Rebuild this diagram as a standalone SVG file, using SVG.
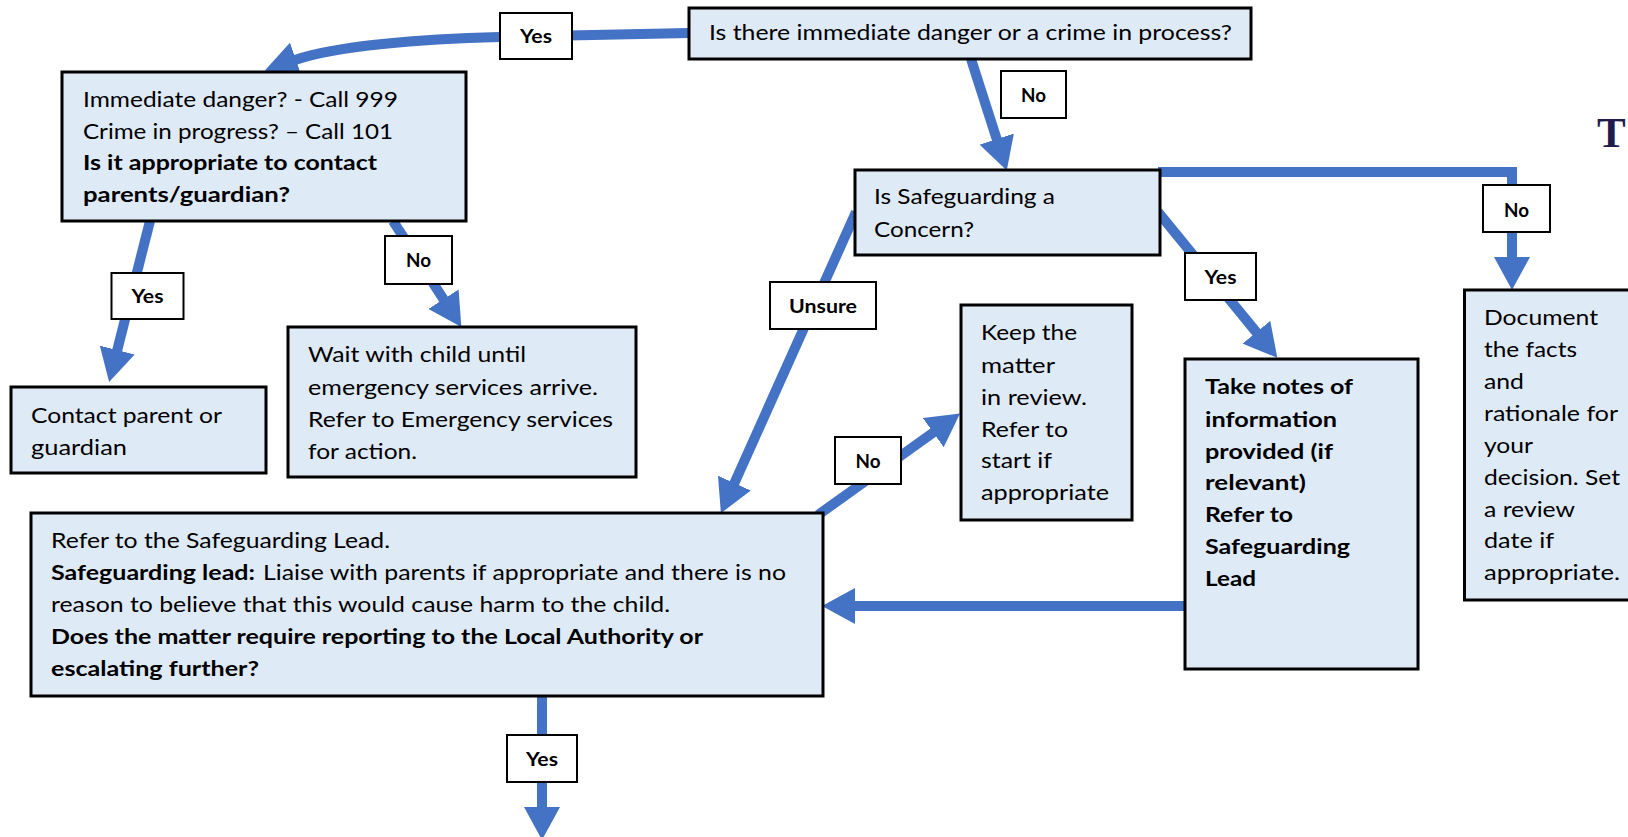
<svg xmlns="http://www.w3.org/2000/svg" width="1628" height="837" viewBox="0 0 1628 837">
<style>
.box{fill:#DEEAF6;stroke:#000;stroke-width:3}
.lbl{fill:#fff;stroke:#000;stroke-width:2}
.t{font-family:Lato,"Liberation Sans",sans-serif;font-size:21px;fill:#000}
.b{font-weight:bold}
.lt{font-family:Lato,"Liberation Sans",sans-serif;font-size:18px;font-weight:bold;fill:#000;text-anchor:middle}
.c{fill:none;stroke:#4472C4;stroke-width:10;marker-end:url(#ah)}
</style>
<defs>
<marker id="ah" viewBox="0 0 33 36" refX="1" refY="18" markerWidth="33" markerHeight="36" markerUnits="userSpaceOnUse" orient="auto">
<path d="M0,0 L33,18 L0,36 Z" fill="#4472C4"/>
</marker>
</defs>
<rect width="1628" height="837" fill="#fff"/>
<g id="connectors">
<path class="c" d="M689 33 L500 37 C420 39 335 46 295 60"/>
<path class="c" d="M971 59 L997 140"/>
<path class="c" d="M1158 172 H1512 V258"/>
<path class="c" d="M150 221 L117 351"/>
<path class="c" d="M393 221 L444 300"/>
<path class="c" d="M856 212 L734 484"/>
<path class="c" d="M1158 212 L1257 333"/>
<path class="c" d="M1185 606 L854 606"/>
<path class="c" d="M818 515 L934 432"/>
<path class="c" d="M542 696 V808"/>
</g>
<g id="n-start">
<rect class="box" x="689" y="8" width="562" height="51"/>
<text class="t" x="709" y="40" textLength="523" lengthAdjust="spacingAndGlyphs">Is there immediate danger or a crime in process?</text>
</g>
<g id="n-immediate">
<rect class="box" x="62" y="72" width="404" height="149"/>
<text class="t" x="83" y="107" textLength="315" lengthAdjust="spacingAndGlyphs">Immediate danger? - Call 999</text>
<text class="t" x="83" y="138.5" textLength="310" lengthAdjust="spacingAndGlyphs">Crime in progress? – Call 101</text>
<text class="t b" x="83" y="170" textLength="294" lengthAdjust="spacingAndGlyphs">Is it appropriate to contact</text>
<text class="t b" x="83" y="201.5" textLength="207" lengthAdjust="spacingAndGlyphs">parents/guardian?</text>
</g>
<g id="n-concern">
<rect class="box" x="855" y="170" width="305" height="85"/>
<text class="t" x="874" y="204" textLength="181" lengthAdjust="spacingAndGlyphs">Is Safeguarding a</text>
<text class="t" x="874" y="236.5" textLength="100" lengthAdjust="spacingAndGlyphs">Concern?</text>
</g>
<g id="n-contact">
<rect class="box" x="11" y="387" width="255" height="86"/>
<text class="t" x="31" y="423" textLength="191" lengthAdjust="spacingAndGlyphs">Contact parent or</text>
<text class="t" x="31" y="455" textLength="96" lengthAdjust="spacingAndGlyphs">guardian</text>
</g>
<g id="n-wait">
<rect class="box" x="288" y="327" width="348" height="150"/>
<text class="t" x="308" y="362" textLength="218" lengthAdjust="spacingAndGlyphs">Wait with child until</text>
<text class="t" x="308" y="395" textLength="290" lengthAdjust="spacingAndGlyphs">emergency services arrive.</text>
<text class="t" x="308" y="427" textLength="305" lengthAdjust="spacingAndGlyphs">Refer to Emergency services</text>
<text class="t" x="308" y="458.5" textLength="109" lengthAdjust="spacingAndGlyphs">for action.</text>
</g>
<g id="n-review">
<rect class="box" x="961" y="305" width="171" height="215"/>
<text class="t" x="981" y="340" textLength="96" lengthAdjust="spacingAndGlyphs">Keep the</text>
<text class="t" x="981" y="372.5" textLength="74" lengthAdjust="spacingAndGlyphs">matter</text>
<text class="t" x="981" y="404.5" textLength="106" lengthAdjust="spacingAndGlyphs">in review.</text>
<text class="t" x="981" y="436.5" textLength="87" lengthAdjust="spacingAndGlyphs">Refer to</text>
<text class="t" x="981" y="468" textLength="71" lengthAdjust="spacingAndGlyphs">start if</text>
<text class="t" x="981" y="500" textLength="128" lengthAdjust="spacingAndGlyphs">appropriate</text>
</g>
<g id="n-notes">
<rect class="box" x="1185" y="359" width="233" height="310"/>
<text class="t b" x="1205" y="394" textLength="148" lengthAdjust="spacingAndGlyphs">Take notes of</text>
<text class="t b" x="1205" y="426.5" textLength="132" lengthAdjust="spacingAndGlyphs">information</text>
<text class="t b" x="1205" y="458.5" textLength="128" lengthAdjust="spacingAndGlyphs">provided (if</text>
<text class="t b" x="1205" y="490" textLength="101" lengthAdjust="spacingAndGlyphs">relevant)</text>
<text class="t b" x="1205" y="522" textLength="88" lengthAdjust="spacingAndGlyphs">Refer to</text>
<text class="t b" x="1205" y="553.5" textLength="145" lengthAdjust="spacingAndGlyphs">Safeguarding</text>
<text class="t b" x="1205" y="585.5" textLength="51" lengthAdjust="spacingAndGlyphs">Lead</text>
</g>
<g id="n-document">
<rect class="box" x="1464.5" y="290" width="200" height="310"/>
<text class="t" x="1484" y="325" textLength="114" lengthAdjust="spacingAndGlyphs">Document</text>
<text class="t" x="1484" y="356.7" textLength="93" lengthAdjust="spacingAndGlyphs">the facts</text>
<text class="t" x="1484" y="388.5" textLength="40" lengthAdjust="spacingAndGlyphs">and</text>
<text class="t" x="1484" y="420.7" textLength="134" lengthAdjust="spacingAndGlyphs">rationale for</text>
<text class="t" x="1484" y="452.7" textLength="49" lengthAdjust="spacingAndGlyphs">your</text>
<text class="t" x="1484" y="485" textLength="136" lengthAdjust="spacingAndGlyphs">decision. Set</text>
<text class="t" x="1484" y="516.7" textLength="91" lengthAdjust="spacingAndGlyphs">a review</text>
<text class="t" x="1484" y="548.3" textLength="70" lengthAdjust="spacingAndGlyphs">date if</text>
<text class="t" x="1484" y="580" textLength="136" lengthAdjust="spacingAndGlyphs">appropriate.</text>
</g>
<g id="n-lead">
<rect class="box" x="31" y="513" width="792" height="183"/>
<text class="t" x="51" y="548" textLength="339" lengthAdjust="spacingAndGlyphs">Refer to the Safeguarding Lead.</text>
<text class="t b" x="51" y="580" textLength="204" lengthAdjust="spacingAndGlyphs">Safeguarding lead:</text>
<text class="t" x="263" y="580" textLength="523" lengthAdjust="spacingAndGlyphs">Liaise with parents if appropriate and there is no</text>
<text class="t" x="51" y="612" textLength="619" lengthAdjust="spacingAndGlyphs">reason to believe that this would cause harm to the child.</text>
<text class="t b" x="51" y="644" textLength="652" lengthAdjust="spacingAndGlyphs">Does the matter require reporting to the Local Authority or</text>
<text class="t b" x="51" y="676" textLength="208" lengthAdjust="spacingAndGlyphs">escalating further?</text>
</g>
<g id="labels">
<rect class="lbl" x="500" y="13" width="72" height="46"/><text class="lt" x="536" y="43" textLength="32" lengthAdjust="spacingAndGlyphs">Yes</text>
<rect class="lbl" x="1001" y="71" width="65" height="47"/><text class="lt" x="1033.5" y="102" textLength="25" lengthAdjust="spacingAndGlyphs">No</text>
<rect class="lbl" x="1483" y="185" width="67" height="47"/><text class="lt" x="1516.5" y="217" textLength="25" lengthAdjust="spacingAndGlyphs">No</text>
<rect class="lbl" x="111.5" y="273" width="72" height="46"/><text class="lt" x="147.5" y="303" textLength="32" lengthAdjust="spacingAndGlyphs">Yes</text>
<rect class="lbl" x="385" y="236" width="67" height="48"/><text class="lt" x="418.5" y="267" textLength="25" lengthAdjust="spacingAndGlyphs">No</text>
<rect class="lbl" x="770" y="282" width="106" height="47"/><text class="lt" x="823" y="313" textLength="68" lengthAdjust="spacingAndGlyphs">Unsure</text>
<rect class="lbl" x="1185" y="253" width="71" height="47"/><text class="lt" x="1220.5" y="284" textLength="32" lengthAdjust="spacingAndGlyphs">Yes</text>
<rect class="lbl" x="835" y="437" width="66" height="47"/><text class="lt" x="868" y="467.5" textLength="25" lengthAdjust="spacingAndGlyphs">No</text>
<rect class="lbl" x="507" y="735" width="70" height="47"/><text class="lt" x="542" y="766" textLength="32" lengthAdjust="spacingAndGlyphs">Yes</text>
</g>
<text x="1597" y="147" font-family="'Liberation Serif',serif" font-size="43" font-weight="bold" fill="#1F1B4D">T</text>
</svg>
